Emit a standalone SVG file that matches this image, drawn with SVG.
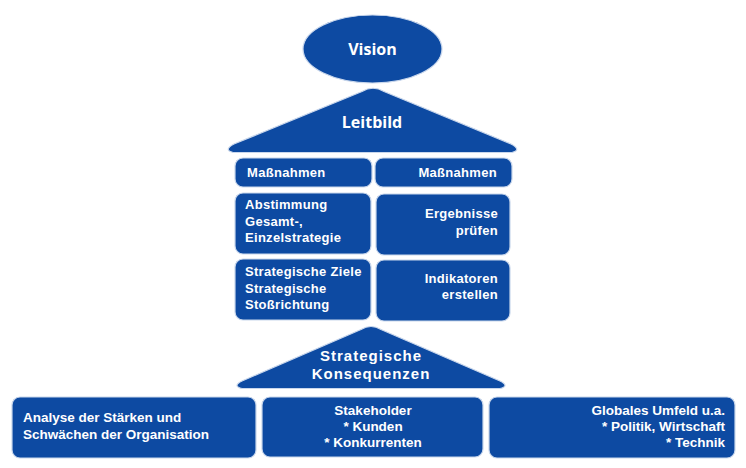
<svg xmlns="http://www.w3.org/2000/svg" width="746" height="468" viewBox="0 0 746 468">
<style>
.s{fill:#0d4aa2;stroke:#c9d7ec;stroke-width:1.2}
.t{fill:#ffffff;font-family:"Liberation Sans","Open Sans",sans-serif;font-weight:bold;font-size:13px;letter-spacing:0.3px}
.b{fill:#ffffff;font-family:"Liberation Sans","Open Sans",sans-serif;font-weight:bold;font-size:13.5px}
.h{fill:#ffffff;font-family:"Open Sans","Liberation Sans",sans-serif;font-weight:bold;font-size:16px}
.k{fill:#ffffff;font-family:"Liberation Sans","Open Sans",sans-serif;font-weight:bold;font-size:15px;letter-spacing:1px}
.m{text-anchor:middle}
.e{text-anchor:end}
</style>
<rect width="746" height="468" fill="#ffffff"/>
<g id="connectors"></g>
<g id="vision">
<ellipse class="s" cx="372.5" cy="49" rx="69.5" ry="34"/>
<text class="h m" x="372.5" y="55">Vision</text>
</g>
<g id="leitbild">
<path class="s" d="M362,91.5 Q373,85 384,91.5 L511,144 Q522,150 512,152.5 L233,152.5 Q223,150 234,144 Z"/>
<text class="h m" x="372" y="128">Leitbild</text>
</g>
<g id="massnahmen-links">
<rect class="s" x="235" y="158" width="137" height="29" rx="8"/>
<text class="t" x="247" y="177">Maßnahmen</text>
</g>
<g id="massnahmen-rechts">
<rect class="s" x="375" y="158" width="137" height="29" rx="8"/>
<text class="t e" x="497" y="177">Maßnahmen</text>
</g>
<g id="abstimmung">
<rect class="s" x="235" y="193" width="136" height="61" rx="8"/>
<text class="t" x="245" y="209">Abstimmung</text>
<text class="t" x="245" y="226">Gesamt-,</text>
<text class="t" x="245" y="242">Einzelstrategie</text>
</g>
<g id="ergebnisse">
<rect class="s" x="376" y="194" width="134" height="61" rx="8"/>
<text class="t e" x="498" y="218">Ergebnisse</text>
<text class="t e" x="498" y="235">prüfen</text>
</g>
<g id="ziele">
<rect class="s" x="235" y="259" width="136" height="61" rx="8"/>
<text class="t" x="245" y="276">Strategische Ziele</text>
<text class="t" x="245" y="293">Strategische</text>
<text class="t" x="245" y="309">Stoßrichtung</text>
</g>
<g id="indikatoren">
<rect class="s" x="376" y="260" width="134" height="61" rx="8"/>
<text class="t e" x="498" y="283">Indikatoren</text>
<text class="t e" x="498" y="299">erstellen</text>
</g>
<g id="konsequenzen">
<path class="s" d="M361,329.5 Q371,323.5 381,329.5 L500,381 Q510,386 500,388.5 L242,388.5 Q232,386 242,381 Z"/>
<text class="k m" x="371" y="361">Strategische</text>
<text class="k m" x="371" y="379">Konsequenzen</text>
</g>
<g id="analyse">
<rect class="s" x="12" y="397" width="244" height="61" rx="8"/>
<text class="b" x="23" y="422">Analyse der Stärken und</text>
<text class="b" x="23" y="439">Schwächen der Organisation</text>
</g>
<g id="stakeholder">
<rect class="s" x="262" y="397" width="221" height="60" rx="8"/>
<text class="b m" x="373" y="415">Stakeholder</text>
<text class="b m" x="373" y="431">* Kunden</text>
<text class="b m" x="373" y="447">* Konkurrenten</text>
</g>
<g id="umfeld">
<rect class="s" x="489" y="397" width="246" height="61" rx="8"/>
<text class="b e" x="725" y="415">Globales Umfeld u.a.</text>
<text class="b e" x="725" y="431">* Politik, Wirtschaft</text>
<text class="b e" x="725" y="447">* Technik</text>
</g>
</svg>
